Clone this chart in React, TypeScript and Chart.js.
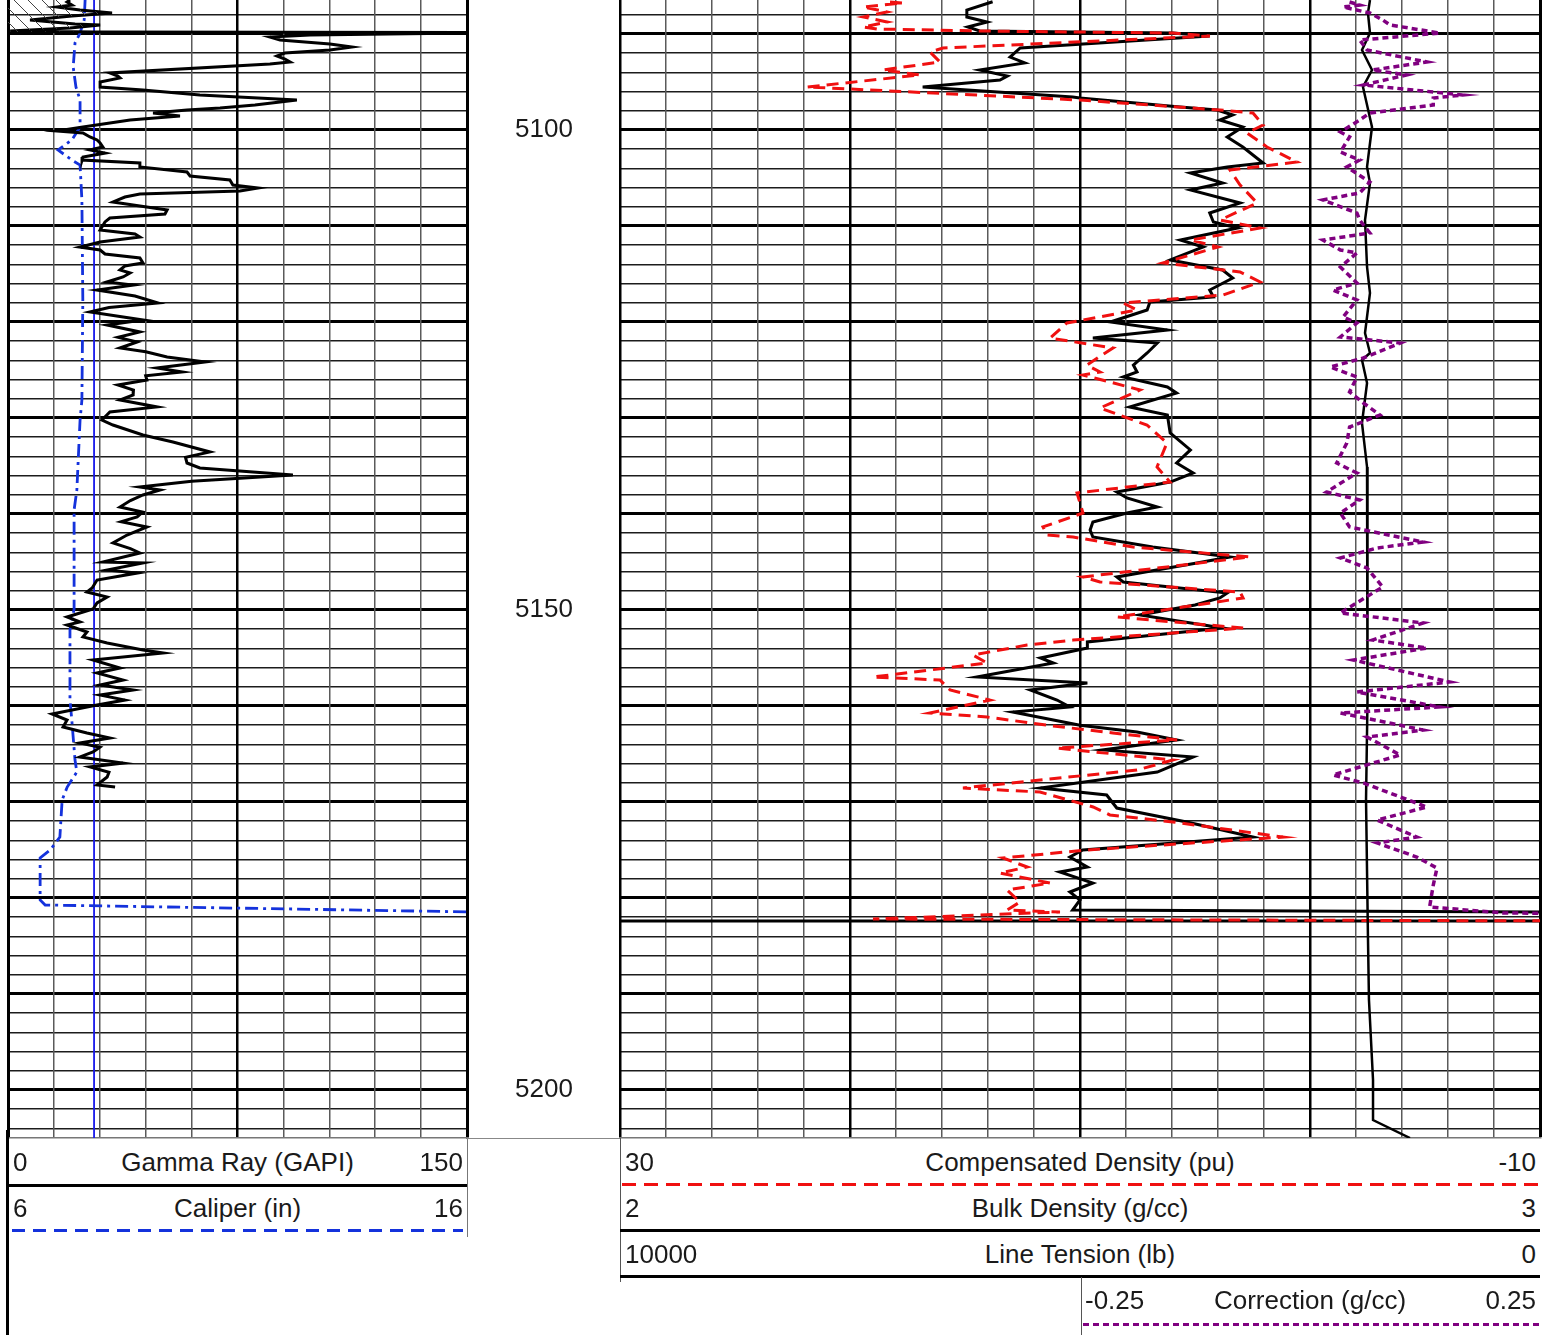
import { useEffect, useRef } from "react";
import { Chart, registerables } from "chart.js";

Chart.register(...registerables);

const FONT = "'Liberation Sans', Arial, Helvetica, sans-serif";

const TOP_DEPTH = 5086.46;
const BOTTOM_DEPTH = 5205;
const DEPTH_LABELS = [5100, 5150, 5200];

// [depth ft, value]
const GAMMA_RAY: [number, number][] = [
	[5086.46, 20.3], [5086.67, 19.3], [5086.98, 20.9], [5087.19, 16.0], [5087.5, 23.5], [5087.81, 34.0],
	[5088.13, 20.9], [5088.54, 7.2], [5088.96, 21.9], [5089.06, 30.1], [5089.38, 20.3], [5089.69, 0.7],
	[5089.79, 28.4], [5089.85, 160], [5090.11, 98.7], [5090.31, 85.6], [5090.63, 88.9], [5091.04, 105.2],
	[5091.36, 112.4], [5091.67, 105.2], [5091.98, 90.5], [5092.29, 87.9], [5092.61, 90.5], [5092.92, 92.2],
	[5093.13, 85.6], [5094.06, 33.3], [5094.38, 35.9], [5094.58, 36.6], [5095.0, 30.1], [5095.52, 30.1],
	[5095.83, 44.1], [5096.35, 62.7], [5096.88, 94.4], [5097.4, 80.7], [5097.71, 69.3], [5097.92, 58.5],
	[5098.23, 47.4], [5098.54, 56.2], [5098.96, 39.9], [5099.69, 24.5], [5100.1, 16.0], [5100.31, 24.5],
	[5100.73, 26.8], [5101.04, 29.1], [5101.35, 30.1], [5101.77, 31.0], [5102.08, 26.8], [5102.4, 31.7],
	[5102.81, 24.5], [5103.13, 24.2], [5103.44, 43.1], [5103.85, 43.1], [5104.38, 58.5], [5104.79, 59.5],
	[5105.21, 72.5], [5105.73, 73.5], [5106.04, 81.7], [5106.35, 75.8], [5106.67, 43.1], [5106.98, 38.2],
	[5107.5, 34.3], [5107.92, 43.1], [5108.33, 52.0], [5108.75, 51.3], [5109.17, 33.3], [5109.58, 31.7],
	[5110.42, 30.1], [5110.83, 41.5], [5111.15, 43.1], [5111.67, 30.1], [5112.19, 23.5], [5112.5, 30.1],
	[5112.92, 31.7], [5113.33, 43.1], [5113.85, 44.1], [5114.17, 38.2], [5114.58, 36.6], [5114.9, 39.9],
	[5115.31, 37.6], [5115.83, 32.4], [5116.15, 40.9], [5116.67, 29.1], [5117.3, 41.5], [5118.02, 49.0],
	[5118.5, 33.0], [5118.96, 26.8], [5119.79, 44.1], [5120.31, 32.4], [5121.04, 43.1], [5121.6, 36.0],
	[5122.08, 42.2], [5122.71, 36.6], [5123.1, 45.0], [5123.65, 52.0], [5124.17, 64.4], [5124.79, 48.7],
	[5125.21, 56.9], [5125.6, 45.0], [5126.04, 45.4], [5126.56, 35.9], [5127.1, 41.0], [5127.6, 40.9],
	[5128.13, 36.6], [5128.85, 48.7], [5129.38, 33.3], [5130.21, 30.7], [5130.73, 34.3], [5131.77, 44.1],
	[5132.5, 53.9], [5133.54, 66.0], [5134.1, 58.0], [5134.69, 58.5], [5135.21, 62.7], [5135.94, 93.1],
	[5136.6, 60.0], [5137.19, 43.1], [5137.5, 49.7], [5138.02, 44.1], [5138.6, 40.0], [5139.27, 36.6],
	[5139.8, 44.0], [5140.31, 42.2], [5140.8, 37.0], [5141.35, 45.4], [5142.19, 38.9], [5143.02, 34.3],
	[5143.6, 40.0], [5144.06, 43.1], [5145.0, 31.0], [5145.1, 44.1], [5145.83, 32.4], [5146.15, 42.2],
	[5146.88, 29.1], [5147.71, 27.5], [5148.13, 25.8], [5148.65, 32.4], [5149.27, 29.1], [5149.9, 27.8],
	[5150.73, 19.3], [5151.25, 23.5], [5151.56, 19.3], [5152.29, 25.8], [5152.81, 24.5], [5153.44, 32.4],
	[5154.17, 44.1], [5154.48, 50.7], [5155.21, 27.8], [5156.04, 36.6], [5156.56, 29.1], [5157.29, 37.6],
	[5157.81, 30.1], [5158.33, 40.9], [5158.85, 30.1], [5159.38, 38.2], [5159.9, 29.1], [5160.83, 14.4],
	[5161.46, 19.3], [5162.19, 18.0], [5162.81, 25.8], [5163.33, 33.3], [5163.85, 23.5], [5164.3, 30.0],
	[5164.79, 27.8], [5165.31, 23.5], [5165.94, 37.6], [5166.35, 26.8], [5166.9, 33.0], [5167.4, 32.4],
	[5168.23, 29.1], [5168.44, 35.0],
];
const HATCH_POINTS = 13;

const CALIPER: [number, number][] = [
	[5086.46, 7.68], [5088.54, 7.66], [5089.9, 7.57], [5090.94, 7.46], [5093.44, 7.42], [5095.52, 7.48],
	[5096.88, 7.57], [5099.69, 7.57], [5101.04, 7.39], [5102.08, 7.09], [5103.13, 7.39], [5103.65, 7.57],
	[5107.29, 7.61], [5117.71, 7.63], [5128.13, 7.61], [5130.21, 7.57], [5137.5, 7.5], [5139.58, 7.44],
	[5149.9, 7.44], [5152.08, 7.35], [5159.38, 7.35], [5161.46, 7.39], [5165.63, 7.46], [5166.88, 7.5],
	[5168.44, 7.29], [5169.79, 7.18], [5173.65, 7.13], [5175.0, 6.92], [5175.83, 6.7], [5180.21, 6.7],
	[5180.73, 6.81], [5181.46, 16.2],
];

const BIT_SIZE: [number, number][] = [
	[5086.46, 7.875], [5205, 7.875],
];

const BULK_DENSITY: [number, number][] = [
	[5086.64, 2.405], [5087.5, 2.377], [5088.23, 2.377], [5088.75, 2.399], [5089.27, 2.378], [5089.69, 2.391],
	[5089.9, 2.601], [5090.21, 2.641], [5091.46, 2.435], [5092.4, 2.424], [5093.02, 2.44], [5093.75, 2.391],
	[5094.38, 2.421], [5094.79, 2.413], [5095.52, 2.329], [5096.56, 2.492], [5096.67, 2.5], [5097.6, 2.609],
	[5097.92, 2.649], [5098.44, 2.666], [5098.96, 2.652], [5099.69, 2.677], [5100.73, 2.66], [5101.77, 2.677],
	[5103.44, 2.699], [5103.85, 2.66], [5104.48, 2.62], [5105.52, 2.655], [5106.25, 2.62], [5107.6, 2.674],
	[5108.65, 2.641], [5109.58, 2.645], [5110.21, 2.671], [5111.46, 2.609], [5112.19, 2.634], [5113.54, 2.598],
	[5114.58, 2.655], [5115.42, 2.666], [5116.67, 2.641], [5117.4, 2.645], [5117.92, 2.576], [5118.75, 2.573],
	[5120.0, 2.533], [5120.83, 2.595], [5121.67, 2.514], [5122.19, 2.584], [5123.23, 2.573], [5124.48, 2.558],
	[5125.21, 2.562], [5125.73, 2.547], [5126.77, 2.595], [5127.4, 2.605], [5128.85, 2.554], [5129.69, 2.595],
	[5131.56, 2.598], [5133.33, 2.62], [5134.69, 2.605], [5135.73, 2.623], [5136.67, 2.598], [5137.71, 2.54],
	[5138.33, 2.551], [5139.27, 2.584], [5139.9, 2.551], [5140.83, 2.514], [5141.67, 2.511], [5142.4, 2.514],
	[5143.44, 2.579], [5144.48, 2.663], [5145.1, 2.627], [5146.56, 2.54], [5147.08, 2.547], [5148.23, 2.66],
	[5148.75, 2.652], [5149.48, 2.625], [5150.52, 2.565], [5151.88, 2.655], [5153.33, 2.508], [5153.96, 2.508],
	[5155.0, 2.457], [5155.52, 2.471], [5156.98, 2.388], [5157.6, 2.508], [5158.33, 2.446], [5159.38, 2.475],
	[5160.1, 2.489], [5160.63, 2.427], [5162.0, 2.5], [5162.71, 2.562], [5163.54, 2.605], [5164.58, 2.525],
	[5165.31, 2.623], [5166.88, 2.584], [5168.54, 2.457], [5169.27, 2.529], [5170.63, 2.54], [5172.08, 2.616],
	[5173.65, 2.688], [5175.0, 2.503], [5175.73, 2.489], [5176.77, 2.508], [5177.29, 2.478], [5178.44, 2.514],
	[5179.38, 2.489], [5180.21, 2.5], [5181.25, 2.492], [5181.46, 3.022], [5182.4, 3.022], [5182.4, 1.978],
];

const COMP_DENSITY: [number, number][] = [
	[5086.67, 18.26], [5086.77, 17.7], [5087.19, 19.43], [5087.7, 18.4], [5088.23, 19.43], [5088.75, 18.39],
	[5089.27, 19.43], [5089.48, 18.83], [5089.69, 14.35], [5089.9, 5.96], [5090.21, 4.35], [5091.46, 15.96],
	[5091.88, 16.52], [5092.92, 16.09], [5093.75, 18.57], [5094.27, 16.96], [5095.52, 21.87], [5096.88, 10.0],
	[5097.92, 3.91], [5098.23, 2.48], [5099.48, 2.04], [5100.31, 2.74], [5101.77, 1.87], [5103.33, 0.57],
	[5104.17, 3.48], [5105.73, 3.04], [5107.6, 2.3], [5109.38, 3.91], [5110.21, 2.17], [5111.46, 5.2],
	[5112.19, 4.0], [5113.85, 6.39], [5114.79, 3.04], [5115.83, 2.17], [5117.19, 3.78], [5118.02, 8.13],
	[5118.75, 7.52], [5120.1, 10.57], [5121.67, 11.3], [5122.71, 8.57], [5124.48, 9.7], [5125.21, 9.13],
	[5125.52, 9.87], [5127.08, 7.39], [5128.96, 9.13], [5130.73, 7.09], [5132.6, 6.22], [5135.1, 6.65],
	[5136.67, 6.09], [5137.81, 10.13], [5139.9, 9.87], [5141.35, 11.61], [5142.19, 11.43], [5142.4, 10.3],
	[5143.44, 7.7], [5144.48, 2.61], [5146.56, 9.87], [5147.08, 9.13], [5148.13, 3.04], [5148.75, 2.91],
	[5150.73, 8.39], [5151.88, 2.91], [5153.13, 10.3], [5153.65, 12.3], [5154.69, 14.65], [5155.52, 14.04],
	[5156.98, 19.0], [5157.29, 16.09], [5158.33, 15.65], [5159.38, 13.91], [5160.73, 16.52], [5161.15, 14.04],
	[5162.0, 11.43], [5162.81, 8.57], [5163.54, 5.78], [5164.38, 11.0], [5165.63, 5.96], [5166.67, 7.52],
	[5168.54, 15.09], [5168.96, 11.74], [5170.52, 9.43], [5171.35, 8.7], [5172.08, 5.96], [5173.65, 1.17],
	[5175.0, 9.7], [5175.83, 13.35], [5176.77, 12.3], [5177.4, 13.48], [5178.44, 11.3], [5179.17, 13.17],
	[5180.42, 12.61], [5181.25, 13.17], [5181.46, 10.87], [5182.19, 19.0], [5182.4, -12.6],
];

const CORRECTION: [number, number][] = [
	[5086.67, 0.043], [5086.98, 0.054], [5087.19, 0.036], [5087.81, 0.065], [5088.54, 0.079], [5089.06, 0.087],
	[5089.9, 0.141], [5090.63, 0.054], [5091.67, 0.062], [5092.92, 0.127], [5093.75, 0.068], [5094.27, 0.105],
	[5095.31, 0.058], [5096.35, 0.166], [5096.67, 0.134], [5097.4, 0.134], [5098.23, 0.065], [5098.96, 0.054],
	[5100.21, 0.033], [5100.73, 0.043], [5102.29, 0.033], [5103.13, 0.054], [5103.85, 0.04], [5105.42, 0.065],
	[5106.56, 0.054], [5107.29, 0.014], [5108.65, 0.051], [5109.38, 0.054], [5110.73, 0.065], [5111.46, 0.014],
	[5112.5, 0.033], [5112.81, 0.051], [5114.27, 0.033], [5115.94, 0.051], [5116.67, 0.025], [5117.71, 0.051],
	[5119.48, 0.036], [5120.1, 0.051], [5121.56, 0.033], [5122.19, 0.098], [5123.75, 0.058], [5124.69, 0.022],
	[5125.73, 0.051], [5127.29, 0.043], [5128.44, 0.058], [5129.69, 0.076], [5130.94, 0.043], [5132.6, 0.04],
	[5134.69, 0.029], [5135.73, 0.051], [5137.71, 0.018], [5138.54, 0.054], [5139.9, 0.033], [5141.35, 0.043],
	[5142.92, 0.123], [5143.54, 0.073], [5144.58, 0.033], [5145.63, 0.062], [5147.6, 0.079], [5150.31, 0.033],
	[5151.35, 0.123], [5153.13, 0.068], [5153.96, 0.127], [5155.21, 0.047], [5157.5, 0.152], [5158.54, 0.051],
	[5160.1, 0.141], [5160.73, 0.033], [5162.5, 0.123], [5163.23, 0.062], [5165.1, 0.098], [5167.19, 0.025],
	[5168.02, 0.058], [5170.52, 0.127], [5171.88, 0.073], [5173.65, 0.116], [5174.27, 0.073], [5175.73, 0.116],
	[5176.88, 0.138], [5178.65, 0.134], [5180.94, 0.13], [5181.56, 0.21], [5181.6, 0.272],
];

const LINE_TENSION: [number, number][] = [
	[5086.46, 1848], [5087.81, 1870], [5089.9, 1848], [5091.67, 1935], [5093.75, 1826], [5095.52, 1924],
	[5099.69, 1826], [5103.85, 1880], [5105.52, 1848], [5109.38, 1902], [5114.27, 1880], [5116.98, 1848],
	[5121.15, 1902], [5123.23, 1848], [5123.96, 1935], [5126.35, 1880], [5130.52, 1935], [5135.1, 1880],
	[5148.96, 1880], [5159.38, 1870], [5169.79, 1891], [5184.06, 1870], [5190.63, 1859], [5198.96, 1815],
	[5203.13, 1815], [5205.0, 1413],
];

const steps = (from: number, to: number, step: number) => {
	const out: number[] = [];
	for (let i = 0; from + i * step <= to + 1e-9; i++) out.push(+(from + i * step).toFixed(4));
	return out;
};

const toXY = (pts: [number, number][]) => pts.map(([d, v]) => ({ x: v, y: d }));

function makeHatch() {
	const c = document.createElement("canvas");
	c.width = 14;
	c.height = 14;
	const g = c.getContext("2d");
	if (!g) return "transparent";
	g.strokeStyle = "#444";
	g.lineWidth = 1;
	g.beginPath();
	g.moveTo(-2, -2);
	g.lineTo(16, 16);
	g.stroke();
	return g.createPattern(c, "repeat") ?? "transparent";
}

const depthGrid = {
	drawTicks: false,
	color: (ctx: any) => (ctx.tick && ctx.tick.value % 10 === 0 ? "#000" : "#1c1c1c"),
	lineWidth: (ctx: any) => (ctx.tick && ctx.tick.value % 10 === 0 ? 3 : 1.4),
};

const line = (data: [number, number][], axis: string, color: string, width: number, dash: number[] = []) => ({
	data: toXY(data),
	xAxisID: axis,
	borderColor: color,
	borderWidth: width,
	borderDash: dash,
	pointRadius: 0,
	fill: false,
	tension: 0,
});

const common = {
	indexAxis: "y" as const,
	animation: false as const,
	responsive: false,
	maintainAspectRatio: false,
	events: [],
	plugins: { legend: { display: false }, tooltip: { enabled: false } },
};

function buildLeft(el: HTMLCanvasElement) {
	return new Chart(el, {
		type: "line",
		data: {
			datasets: [
				{
					data: toXY(GAMMA_RAY.slice(0, HATCH_POINTS)),
					xAxisID: "gr",
					borderWidth: 0,
					backgroundColor: makeHatch(),
					fill: { value: 0 },
					pointRadius: 0,
				},
				line(GAMMA_RAY, "gr", "#000", 3),
				line(CALIPER, "cal", "rgb(20,50,220)", 2.8, [13, 5, 3, 5]),
				line(BIT_SIZE, "cal", "rgb(25,25,235)", 1.8),
			] as any,
		},
		options: {
			...common,
			layout: { padding: { left: 8, top: 0, right: 0, bottom: 2 } },
			scales: {
				y: {
					type: "linear",
					position: "right",
					reverse: true,
					min: TOP_DEPTH,
					max: BOTTOM_DEPTH,
					afterBuildTicks: (s: any) => {
						s.ticks = steps(5088, 5204, 2).map((value) => ({ value }));
					},
					afterFit: (s: any) => {
						s.width = 153;
						s.paddingTop = 0;
						s.paddingBottom = 0;
					},
					grid: depthGrid,
					border: { display: true, color: "#000", width: 3 },
					ticks: {
						autoSkip: false,
						padding: 48,
						crossAlign: "near",
						color: "#1a1a1a",
						font: { family: FONT, size: 26 },
						callback: (v: any) => (DEPTH_LABELS.includes(v) ? String(v) : ""),
					},
				},
				gr: {
					type: "linear",
					axis: "x",
					position: "bottom",
					min: 0,
					max: 150,
					afterBuildTicks: (s: any) => {
						s.ticks = steps(0, 150, 15).map((value) => ({ value }));
					},
					afterFit: (s: any) => {
						s.height = 0;
					},
					ticks: { display: false },
					grid: {
						drawTicks: false,
						color: (ctx: any) => (ctx.index % 5 === 0 ? "#000" : "#5a5a5a"),
						lineWidth: (ctx: any) => (ctx.index % 10 === 0 ? 3 : ctx.index === 5 ? 2.5 : 1.5),
					},
					border: { display: true, color: "#777", width: 1.5 },
				},
				cal: { type: "linear", axis: "x", display: false, min: 6, max: 16 },
			} as any,
		},
	});
}

function buildRight(el: HTMLCanvasElement) {
	return new Chart(el, {
		type: "line",
		data: {
			datasets: [
				line(CORRECTION, "corr", "#800080", 3.5, [6, 4]),
				line(LINE_TENSION, "ten", "#000", 2.5),
				line(COMP_DENSITY, "dphi", "#f01010", 3, [12, 7]),
				line(BULK_DENSITY, "rhob", "#000", 3),
			] as any,
		},
		options: {
			...common,
			layout: { padding: { left: 10, top: 0, right: 14, bottom: 2 } },
			scales: {
				y: {
					type: "linear",
					position: "left",
					reverse: true,
					min: TOP_DEPTH,
					max: BOTTOM_DEPTH,
					afterBuildTicks: (s: any) => {
						s.ticks = steps(5088, 5204, 2).map((value) => ({ value }));
					},
					afterFit: (s: any) => {
						s.width = 0;
						s.paddingTop = 0;
						s.paddingBottom = 0;
					},
					ticks: { display: false },
					grid: depthGrid,
					border: { display: true, color: "#000", width: 2 },
				},
				rhob: {
					type: "linear",
					axis: "x",
					position: "bottom",
					min: 2,
					max: 3,
					afterBuildTicks: (s: any) => {
						s.ticks = steps(2, 3, 0.05).map((value) => ({ value }));
					},
					afterFit: (s: any) => {
						s.height = 0;
					},
					ticks: { display: false },
					grid: {
						drawTicks: false,
						color: (ctx: any) => (ctx.index % 5 === 0 ? "#000" : "#5a5a5a"),
						lineWidth: (ctx: any) => (ctx.index === 20 ? 3 : ctx.index % 5 === 0 ? 2.5 : 1.5),
					},
					border: { display: true, color: "#777", width: 1.5 },
				},
				dphi: { type: "linear", axis: "x", display: false, min: -10, max: 30, reverse: true },
				ten: { type: "linear", axis: "x", display: false, min: 0, max: 10000, reverse: true },
				corr: { type: "linear", axis: "x", display: false, min: -0.75, max: 0.25 },
			} as any,
		},
	});
}

function Track({ left, width, build }: { left: number; width: number; build: (el: HTMLCanvasElement) => Chart }) {
	const ref = useRef<HTMLCanvasElement | null>(null);
	useEffect(() => {
		if (!ref.current) return;
		const chart = build(ref.current);
		return () => chart.destroy();
	}, [build]);
	return (
		<canvas
			ref={ref}
			width={width}
			height={1140}
			style={{ position: "absolute", left, top: 0, width, height: 1140 }}
		/>
	);
}

type RowProps = { x0: number; x1: number; cy: number; left: string; title: string; right: string };

function HeaderRow({ x0, x1, cy, left, title, right }: RowProps) {
	const base = {
		position: "absolute" as const,
		top: cy - 15,
		lineHeight: "30px",
		fontSize: 26,
		whiteSpace: "nowrap" as const,
	};
	return (
		<>
			<div style={{ ...base, left: x0 + 5 }}>{left}</div>
			<div style={{ ...base, left: (x0 + x1) / 2, transform: "translateX(-50%)" }}>{title}</div>
			<div style={{ ...base, left: x1 - 4, transform: "translateX(-100%)" }}>{right}</div>
		</>
	);
}

function Rule({ x0, x1, y, color, dash }: { x0: number; x1: number; y: number; color: string; dash?: [number, number] }) {
	const bg = dash
		? `repeating-linear-gradient(to right, ${color} 0 ${dash[0]}px, transparent ${dash[0]}px ${dash[0] + dash[1]}px)`
		: color;
	return <div style={{ position: "absolute", left: x0, top: y - 1.5, width: x1 - x0, height: 3, background: bg }} />;
}

function VLine({ x, y0, y1, w = 1, color = "#555" }: { x: number; y0: number; y1: number; w?: number; color?: string }) {
	return <div style={{ position: "absolute", left: x - w / 2, top: y0, width: w, height: y1 - y0, background: color }} />;
}

export default function App() {
	return (
		<div
			style={{
				position: "absolute",
				left: 0,
				top: 0,
				width: 1554,
				height: 1335,
				background: "#fff",
				overflow: "hidden",
				fontFamily: FONT,
				color: "#1a1a1a",
			}}
		>
			<Track left={0} width={620} build={buildLeft} />
			<Track left={610} width={944} build={buildRight} />

			{/* left header */}
			<VLine x={7.5} y0={1130} y1={1335} w={3} color="#000" />
			<VLine x={467} y0={1138} y1={1237} color="#777" />
			<div style={{ position: "absolute", left: 467, top: 1138, width: 153, height: 1, background: "#888" }} />
			<HeaderRow x0={8} x1={467} cy={1162} left="0" title="Gamma Ray (GAPI)" right="150" />
			<Rule x0={8} x1={467} y={1185} color="#000" />
			<HeaderRow x0={8} x1={467} cy={1208} left="6" title="Caliper (in)" right="16" />
			<Rule x0={12} x1={463} y={1230} color="rgb(20,50,220)" dash={[13, 8]} />

			{/* right header */}
			<VLine x={620} y0={1138} y1={1282} color="#555" />
			<HeaderRow x0={620} x1={1540} cy={1162} left="30" title="Compensated Density (pu)" right="-10" />
			<Rule x0={622} x1={1538} y={1184} color="#f01010" dash={[14, 8]} />
			<HeaderRow x0={620} x1={1540} cy={1208} left="2" title="Bulk Density (g/cc)" right="3" />
			<Rule x0={620} x1={1540} y={1230} color="#000" />
			<HeaderRow x0={620} x1={1540} cy={1254} left="10000" title="Line Tension (lb)" right="0" />
			<Rule x0={620} x1={1540} y={1276} color="#000" />
			<VLine x={1081} y0={1277} y1={1335} color="#555" />
			<HeaderRow x0={1080} x1={1540} cy={1300} left="-0.25" title="Correction (g/cc)" right="0.25" />
			<Rule x0={1083} x1={1540} y={1324} color="#800080" dash={[6, 4]} />
		</div>
	);
}
